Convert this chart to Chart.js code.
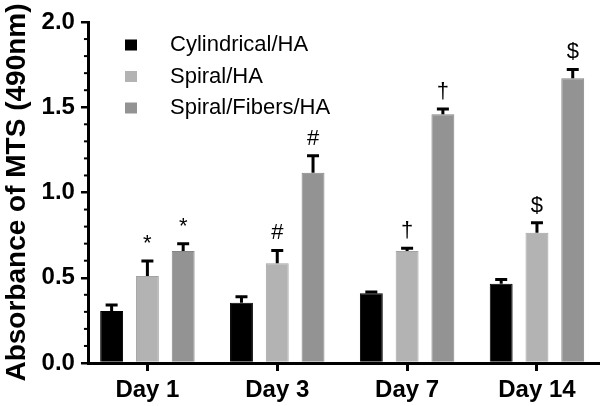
<!DOCTYPE html>
<html>
<head>
<meta charset="utf-8">
<script src="https://cdn.jsdelivr.net/npm/chart.js@4.4.1/dist/chart.umd.min.js"></script>
<style>
  html, body { margin: 0; padding: 0; background: #fff; }
  #wrap { width: 600px; height: 406px; }
</style>
</head>
<body>
<div id="wrap"><canvas id="chart" width="600" height="406"></canvas></div>
<script>
// data
const days = ["Day 1", "Day 3", "Day 7", "Day 14"];
const groups = ["Cylindrical/HA", "Spiral/HA", "Spiral/Fibers/HA"];
const cylindrical = [0.305, 0.354, 0.409, 0.465];
const cylindricalErr = [0.035, 0.035, 0.008, 0.025];
const spiral = [0.510, 0.585, 0.657, 0.764];
const spiralErr = [0.088, 0.075, 0.016, 0.059];
const fibers = [0.657, 1.116, 1.459, 1.670];
const fibersErr = [0.043, 0.100, 0.031, 0.052];
const marks = [
    ["", "", "", ""],
    ["*", "#", "\u2020", "$"],
    ["*", "#", "\u2020", "$"]
];
const yTicks = [0, 0.5, 1.0, 1.5, 2.0];

const FONT = "'Liberation Sans', Arial, sans-serif";
const fills = ["#000000", "#b3b3b3", "#939393"];
const edges = ["#000000", "#a3a3a3", "#858585"];
const errs = [cylindricalErr, spiralErr, fibersErr];

function toPoints(vals) {
    return vals.map((v, i) => ({ x: i, y: v }));
}

// error bars (upper only) + significance marks
const errorBars = {
    id: "errorBars",
    afterDatasetsDraw(chart) {
        const ctx = chart.ctx;
        const y = chart.scales.y;
        chart.data.datasets.forEach((ds, d) => {
            const meta = chart.getDatasetMeta(d);
            meta.data.forEach((bar, i) => {
                const top = y.getPixelForValue(ds.data[i].y + errs[d][i]);
                ctx.save();
                ctx.strokeStyle = "#000";
                ctx.lineWidth = 3;
                ctx.beginPath();
                ctx.moveTo(bar.x, bar.y);
                ctx.lineTo(bar.x, top);
                ctx.moveTo(bar.x - 6, top);
                ctx.lineTo(bar.x + 6, top);
                ctx.stroke();
                if (marks[d][i]) {
                    ctx.fillStyle = "#000";
                    ctx.font = "22px " + FONT;
                    ctx.textAlign = "center";
                    ctx.textBaseline = "alphabetic";
                    ctx.fillText(marks[d][i], bar.x, top - 11);
                }
                ctx.restore();
            });
        });
    }
};

// minor ticks every 0.1 on the y axis
const minorTicks = {
    id: "minorTicks",
    afterDraw(chart) {
        const ctx = chart.ctx;
        const y = chart.scales.y;
        const left = chart.chartArea.left;
        ctx.save();
        ctx.strokeStyle = "#000";
        ctx.lineWidth = 2;
        for (let i = 1; i < 20; i++) {
            if (i % 5 === 0) continue;
            const py = y.getPixelForValue(i / 10);
            ctx.beginPath();
            ctx.moveTo(left - 5, py);
            ctx.lineTo(left, py);
            ctx.stroke();
        }
        ctx.restore();
    }
};

// legend drawn inside the plot, top left
const boxLegend = {
    id: "boxLegend",
    afterDraw(chart) {
        const ctx = chart.ctx;
        ctx.save();
        ctx.font = "22px " + FONT;
        ctx.textBaseline = "middle";
        ctx.textAlign = "left";
        groups.forEach((g, i) => {
            const cy = 45 + i * 31.5;
            ctx.fillStyle = fills[i];
            ctx.fillRect(125, cy - 5.5, 12, 11);
            ctx.fillStyle = "#000";
            ctx.fillText(g, 170, cy);
        });
        ctx.restore();
    }
};

new Chart(document.getElementById("chart"), {
    type: "bar",
    data: {
        datasets: [
            { label: groups[0], data: toPoints(cylindrical), backgroundColor: fills[0], borderColor: edges[0], borderWidth: 1 },
            { label: groups[1], data: toPoints(spiral), backgroundColor: fills[1], borderColor: edges[1], borderWidth: 1 },
            { label: groups[2], data: toPoints(fibers), backgroundColor: fills[2], borderColor: edges[2], borderWidth: 1 }
        ]
    },
    options: {
        responsive: false,
        animation: false,
        layout: { padding: { top: 22, right: 2, left: 0, bottom: -3 } },
        categoryPercentage: 0.8265,
        barPercentage: 0.64,
        plugins: { legend: { display: false }, tooltip: { enabled: false } },
        scales: {
            x: {
                type: "linear",
                min: -0.45,
                max: 3.47,
                offset: false,
                afterBuildTicks: s => { s.ticks = days.map((_, i) => ({ value: i })); },
                ticks: {
                    autoSkip: false,
                    maxRotation: 0,
                    color: "#000",
                    padding: 7,
                    font: { family: FONT, size: 24, weight: "bold", lineHeight: 1.0 },
                    callback: v => days[v]
                },
                grid: { offset: false, drawOnChartArea: false, color: "#000", lineWidth: 3, tickLength: 8 },
                border: { color: "#000", width: 3 }
            },
            y: {
                min: 0,
                max: 2,
                afterBuildTicks: s => { s.ticks = yTicks.map(v => ({ value: v })); },
                ticks: {
                    color: "#000",
                    padding: 6,
                    font: { family: FONT, size: 24, weight: "bold" },
                    callback: v => v.toFixed(1)
                },
                grid: { drawOnChartArea: false, color: "#000", lineWidth: 2.5, tickLength: 8 },
                border: { color: "#000", width: 3 },
                title: {
                    display: true,
                    text: "Absorbance of MTS (490nm)",
                    color: "#000",
                    padding: { top: 0, bottom: 2 },
                    font: { family: FONT, size: 28, weight: "bold" }
                }
            }
        }
    },
    plugins: [errorBars, minorTicks, boxLegend]
});
</script>
</body>
</html>
